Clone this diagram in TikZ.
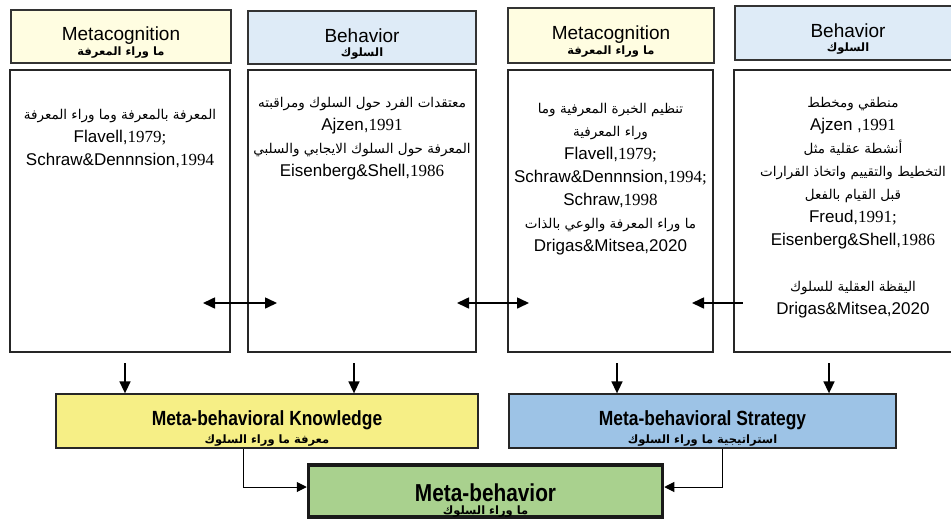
\documentclass[tikz,border=0pt]{standalone}
\usepackage{fontspec}
\usepackage{tikz}
\usetikzlibrary{arrows.meta,calc}
\TeXXeTstate=1
\newfontfamily\lsans{Liberation Sans}
\newfontfamily\lserif{Liberation Serif}
\newfontfamily\narrowsans[FakeStretch=0.85]{Liberation Sans}
\newfontfamily\arabicfont[Script=Arabic]{DejaVu Sans}
\definecolor{headyellow}{HTML}{FFFDE1}
\definecolor{headblue}{HTML}{DEEBF7}
\definecolor{knowyellow}{HTML}{F6EF86}
\definecolor{stratblue}{HTML}{9DC3E6}
\definecolor{metagreen}{HTML}{A9D18E}
\newcommand{\artxt}[1]{{\arabicfont\beginR #1\endR}}
\newcommand{\arbody}[1]{{\fontsize{13.5}{23}\selectfont\arabicfont\beginR #1\endR}}
\newcommand{\cit}[2]{{\lsans #1}{\lserif #2}}
\newcommand{\headtxt}[2]{{\lsans\fontsize{19}{19}\selectfont\rule{0pt}{26pt}#1}\\[2pt]{\fontsize{11.5}{12}\selectfont\bfseries #2}}

\begin{document}
\begin{tikzpicture}[x=1pt,y=-1pt,
  head/.style={draw=black!80,line width=1.2pt,inner sep=0pt,align=center},
  body/.style={draw=black!85,line width=1.4pt,inner sep=0pt,minimum height=282pt},
  bodytext/.style={align=center,inner sep=0pt,anchor=north,font=\lsans\fontsize{17}{23}\selectfont},
  result/.style={draw=black!85,line width=1.3pt,inner sep=0pt,align=center,minimum height=54pt},
  link/.style={line width=1.6pt,>={Triangle[length=12pt,width=11pt]}},
  feed/.style={line width=1pt,>={Triangle[length=10pt,width=10pt]}}]
\useasboundingbox (0,0) rectangle (951,520);

% header row
\node[head,fill=headyellow,minimum width=220pt,minimum height=53pt] (h1) at (121,36.5) {\headtxt{Metacognition}{\artxt{ما وراء المعرفة}}};
\node[head,fill=headblue,minimum width=228pt,minimum height=53pt] (h2) at (362,37.5) {\headtxt{Behavior}{\artxt{السلوك}}};
\node[head,fill=headyellow,minimum width=206pt,minimum height=55pt] (h3) at (611,35.5) {\headtxt{Metacognition}{\artxt{ما وراء المعرفة}}};
\node[head,fill=headblue,minimum width=226pt,minimum height=54pt] (h4) at (848,33) {\headtxt{Behavior}{\artxt{السلوك}}};

% body boxes
\node[body,minimum width=220pt] (b1) at (120,211) {};
\node[body,minimum width=228pt] (b2) at (362,211) {};
\node[body,minimum width=205pt] (b3) at (610.5,211) {};
\node[body,minimum width=238pt] (b4) at (853,211) {};

\node[bodytext] (t1) at (120,109) {\arbody{المعرفة بالمعرفة وما وراء المعرفة}\\
  \cit{Flavell,}{1979;}\\
  \cit{Schraw\&Dennnsion,}{1994}};
\node[bodytext] (t2) at (362,97) {\arbody{معتقدات الفرد حول السلوك ومراقبته}\\
  \cit{Ajzen,}{1991}\\
  \arbody{المعرفة حول السلوك الايجابي والسلبي}\\
  \cit{Eisenberg\&Shell,}{1986}};
\node[bodytext] (t3) at (610.5,103) {\arbody{تنظيم الخبرة المعرفية وما}\\
  \arbody{وراء المعرفية}\\
  \cit{Flavell,}{1979;}\\
  \cit{Schraw\&Dennnsion,}{1994;}\\
  \cit{Schraw,}{1998}\\
  \arbody{ما وراء المعرفة والوعي بالذات}\\
  \cit{Drigas\&Mitsea,2020}{}};
\node[bodytext] (t4) at (853,97) {\arbody{منطقي ومخطط}\\
  \cit{Ajzen ,}{1991}\\
  \arbody{أنشطة عقلية مثل}\\
  \arbody{التخطيط والتقييم واتخاذ القرارات}\\
  \arbody{قبل القيام بالفعل}\\
  \cit{Freud,}{1991;}\\
  \cit{Eisenberg\&Shell,}{1986}\\[23pt]
  \arbody{اليقظة العقلية للسلوك}\\
  \cit{Drigas\&Mitsea,2020}{}};

% links between boxes
\coordinate (a1l) at (203,303);
\coordinate (a1r) at (277,303);
\coordinate (a2l) at (457,303);
\coordinate (a2r) at (529,303);
\coordinate (a3l) at (692,303);
\coordinate (a3r) at (743,303);
\draw[link,<->] (a1l) -- (a1r);
\draw[link,<->] (a2l) -- (a2r);
\draw[link,<-] (a3l) -- (a3r);

% lower row
\node[result,fill=knowyellow,minimum width=422pt] (know) at (267,421) {{\narrowsans\bfseries\fontsize{20.5}{20}\selectfont\rule{0pt}{29pt}Meta-behavioral Knowledge}\\[4pt]{\fontsize{11.5}{12}\selectfont\bfseries\artxt{معرفة ما وراء السلوك}}};
\node[result,fill=stratblue,minimum width=387pt] (strat) at (702.5,421) {{\narrowsans\bfseries\fontsize{20.5}{20}\selectfont\rule{0pt}{29pt}Meta-behavioral Strategy}\\[4pt]{\fontsize{11.5}{12}\selectfont\bfseries\artxt{استراتيجية ما وراء السلوك}}};
\node[result,fill=metagreen,line width=3.5pt,draw=black!90,minimum width=354pt,minimum height=51pt] (meta) at (485.5,491) {{\narrowsans\bfseries\fontsize{24.5}{24}\selectfont\rule{0pt}{36pt}Meta-behavior}\\[1pt]{\fontsize{11.5}{12}\selectfont\bfseries\artxt{ما وراء السلوك}}};

\coordinate (d1) at (125,363);
\coordinate (d2) at (354,363);
\coordinate (d3) at (617,363);
\coordinate (d4) at (829,363);
\draw[link,->] (d1) -- (d1 |- know.north);
\draw[link,->] (d2) -- (d2 |- know.north);
\draw[link,->] (d3) -- (d3 |- strat.north);
\draw[link,->] (d4) -- (d4 |- strat.north);

\draw[feed,->] ([xshift=-24pt]know.south) |- ([yshift=4pt]meta.west);
\draw[feed,->] ([xshift=19.5pt]strat.south) |- ([yshift=4pt]meta.east);
\end{tikzpicture}
\end{document}
